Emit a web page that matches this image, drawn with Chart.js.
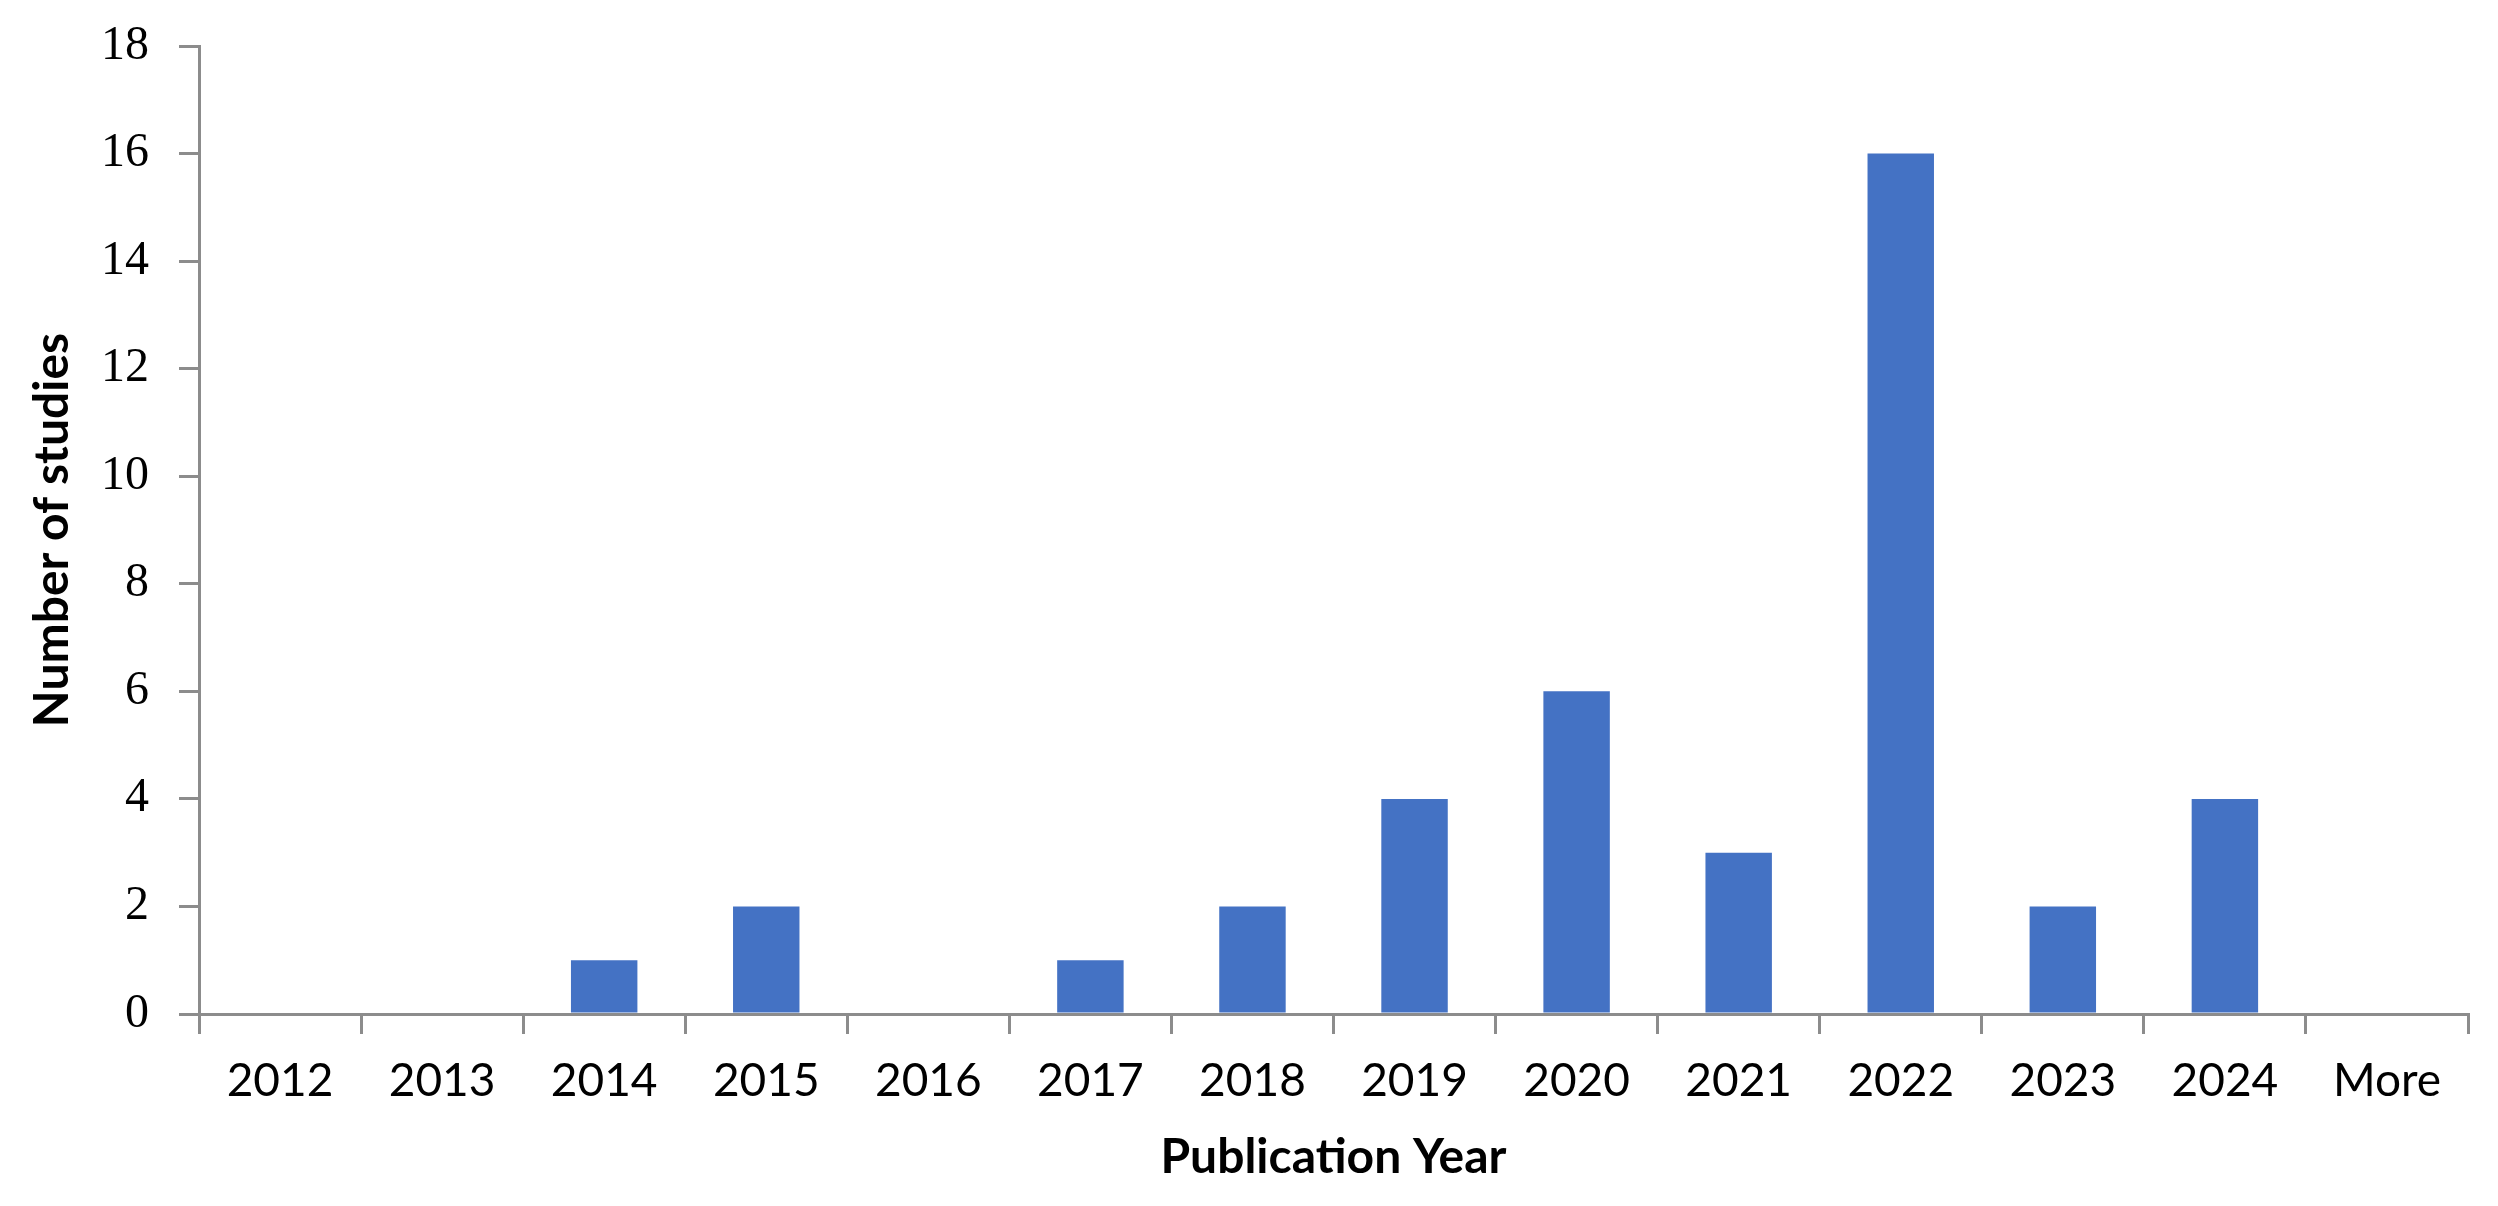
<!DOCTYPE html>
<html>
<head>
<meta charset="utf-8">
<script src="https://cdn.jsdelivr.net/npm/chart.js@4"></script>
<style>
  html, body { margin: 0; padding: 0; background: #fff; }
  #wrap { width: 2498px; height: 1206px; }
</style>
</head>
<body>
<div id="wrap"><canvas id="myChart" width="2498" height="1206"></canvas></div>
<script>
// datos
const years = ['2012', '2013', '2014', '2015', '2016', '2017', '2018', '2019', '2020', '2021', '2022', '2023', '2024', 'More'];
const studies = [0, 0, 1, 2, 0, 1, 2, 4, 6, 3, 16, 2, 4, 0];
const yMax = 18;
const yStep = 2;

const axisGray = '#8c8c8c';

const ctx = document.getElementById('myChart');
new Chart(ctx, {
  type: 'bar',
  data: {
    labels: years,
    datasets: [{
      label: 'Number of studies',
      data: studies,
      backgroundColor: '#4472C4',
      borderWidth: 0,
      barPercentage: 0.41,
      categoryPercentage: 1
    }]
  },
  options: {
    responsive: false,
    animation: false,
    layout: { padding: { top: 46, right: 30, left: 0, bottom: 0 } },
    plugins: {
      legend: { display: false },
      tooltip: { enabled: false }
    },
    scales: {
      x: {
        grid: {
          offset: true,
          drawOnChartArea: false,
          drawTicks: true,
          tickLength: 20,
          color: axisGray,
          lineWidth: 3
        },
        border: { color: axisGray, width: 3 },
        ticks: {
          color: '#000',
          padding: 20,
          maxRotation: 0,
          font: { family: 'Lato', size: 46 }
        },
        title: {
          display: true,
          text: 'Publication Year',
          color: '#000',
          padding: { top: 20, bottom: 20 },
          font: { family: 'Lato', size: 48, weight: 'bold' }
        },
        afterFit: function(scale) { scale.height = 192; }
      },
      y: {
        min: 0,
        max: yMax,
        grid: {
          drawOnChartArea: false,
          drawTicks: true,
          tickLength: 20,
          color: axisGray,
          lineWidth: 3
        },
        border: { color: axisGray, width: 3 },
        ticks: {
          stepSize: yStep,
          color: '#000',
          padding: 30,
          font: { family: 'Liberation Serif', size: 48 }
        },
        title: {
          display: true,
          text: 'Number of studies',
          color: '#000',
          padding: { top: 24, bottom: 10 },
          font: { family: 'Lato', size: 48, weight: 'bold' }
        },
        afterFit: function(scale) {
          scale.width = 199;
          scale.paddingTop = 0;
          scale.paddingBottom = 0;
        }
      }
    }
  }
});
</script>
</body>
</html>
